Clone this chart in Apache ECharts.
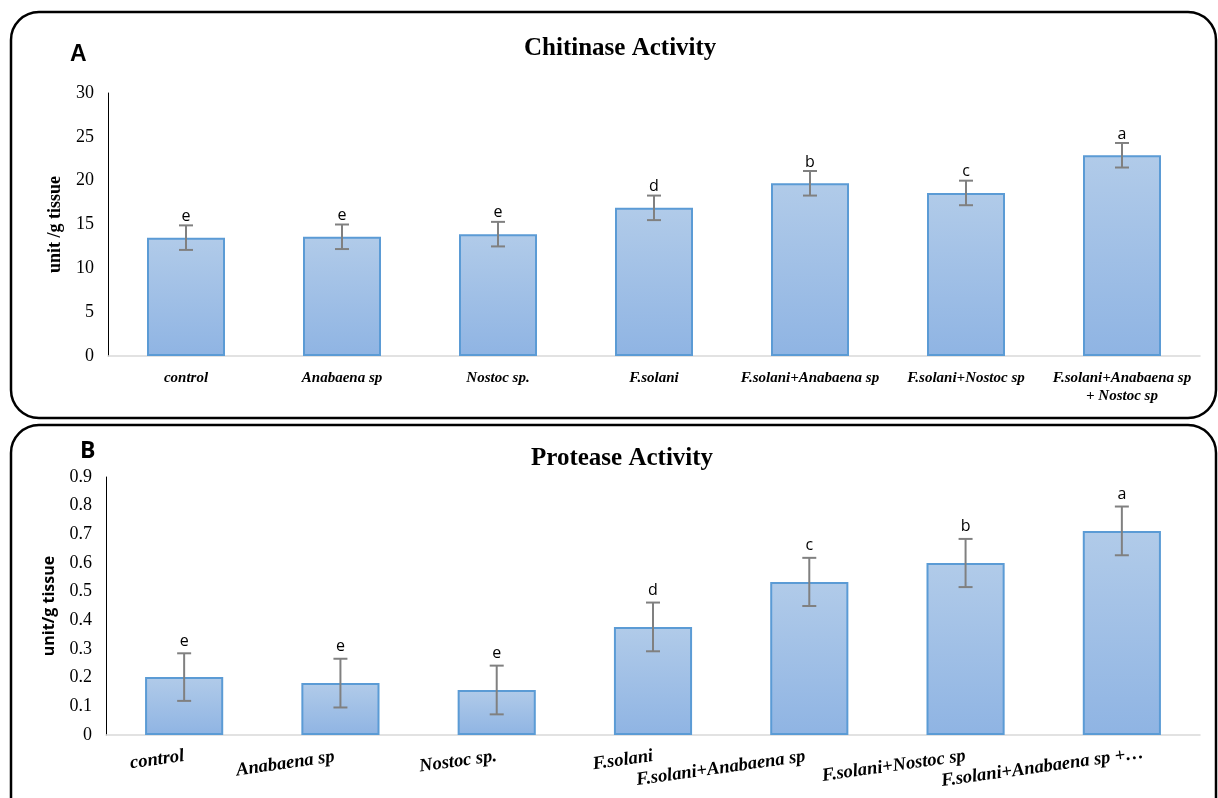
<!DOCTYPE html>
<html>
<head>
<meta charset="utf-8">
<title>Chitinase / Protease Activity</title>
<script src="https://cdn.jsdelivr.net/npm/echarts@6/dist/echarts.min.js"></script>
<style>
  html, body { margin: 0; padding: 0; background: #fff; }
  #main { width: 1218px; height: 798px; }
</style>
</head>
<body>
<div id="main"></div>
<script>
// categories
var catsA = ['control', 'Anabaena sp', 'Nostoc sp.', 'F.solani', 'F.solani+Anabaena sp', 'F.solani+Nostoc sp', 'F.solani+Anabaena sp\n+ Nostoc sp'];
var catsB = ['control', 'Anabaena sp', 'Nostoc sp.', 'F.solani', 'F.solani+Anabaena sp', 'F.solani+Nostoc sp', 'F.solani+Anabaena sp +\u2026'];

// chitinase (unit /g tissue)
var chitinase = [13.5, 13.6, 13.9, 16.9, 19.7, 18.6, 22.9];
var chitinaseErr = [1.4, 1.4, 1.4, 1.4, 1.4, 1.4, 1.4];
var chitinaseLetters = ['e', 'e', 'e', 'd', 'b', 'c', 'a'];

// protease (unit/g tissue)
var protease = [0.202, 0.181, 0.157, 0.377, 0.534, 0.600, 0.712];
var proteaseErr = [0.083, 0.085, 0.085, 0.085, 0.084, 0.084, 0.085];
var proteaseLetters = ['e', 'e', 'e', 'd', 'c', 'b', 'a'];

// tick settings
var ticksA = { min: 0, max: 30, interval: 5 };
var ticksB = { min: 0, max: 0.9, interval: 0.1 };

// label shifts for the slanted labels of panel B (padding in text frame)
var shiftB = [
  [0, 0, 0, 0],
  [12, 6, 0, 0],
  [14, 0, 0, 0],
  [2, 0, 0, 0],
  [8, 4, 0, 0],
  [4, 0, 0, 0],
  [2, -22, 0, 0]
];

var serif = '"Liberation Serif", "Times New Roman", serif';
var sans = '"Open Sans", "Noto Sans", sans-serif';

function barFill() {
  return new echarts.graphic.LinearGradient(0, 0, 0, 1, [
    { offset: 0, color: '#b1cbe9' },
    { offset: 1, color: '#8fb4e3' }
  ]);
}

// error bar data: [index, high, low]
function errData(vals, errs) {
  var out = [];
  for (var i = 0; i < vals.length; i++) {
    out.push([i, vals[i] + errs[i], vals[i] - errs[i]]);
  }
  return out;
}

function errRender(letters, gap) {
  return function (params, api) {
    var top = api.coord([api.value(0), api.value(1)]);
    var bot = api.coord([api.value(0), api.value(2)]);
    var cap = 7;
    var st = { stroke: '#808080', lineWidth: 2 };
    return {
      type: 'group',
      children: [
        { type: 'line', shape: { x1: top[0], y1: top[1], x2: bot[0], y2: bot[1] }, style: st },
        { type: 'line', shape: { x1: top[0] - cap, y1: top[1], x2: top[0] + cap, y2: top[1] }, style: st },
        { type: 'line', shape: { x1: bot[0] - cap, y1: bot[1], x2: bot[0] + cap, y2: bot[1] }, style: st },
        {
          type: 'text',
          style: {
            text: letters[params.dataIndex],
            x: top[0], y: top[1] - gap,
            align: 'center', verticalAlign: 'bottom',
            fontFamily: sans, fontSize: 16, fill: '#000'
          }
        }
      ]
    };
  };
}

var labelsB = [];
for (var i = 0; i < catsB.length; i++) {
  labelsB.push({ value: catsB[i], textStyle: { padding: shiftB[i] } });
}

function drawChart() {
  var myChart = echarts.init(document.getElementById('main'));
  var option = {
    animation: false,
    backgroundColor: '#fff',
    graphic: [
      { type: 'rect', shape: { x: 11, y: 12, width: 1205, height: 406, r: 28 }, style: { fill: 'none', stroke: '#000', lineWidth: 2.5 }, z: 0 },
      { type: 'rect', shape: { x: 11, y: 425, width: 1205, height: 420, r: 28 }, style: { fill: 'none', stroke: '#000', lineWidth: 2.5 }, z: 0 }
    ],
    title: [
      { text: 'Chitinase Activity', left: 524, top: 36, padding: 0, textStyle: { fontFamily: serif, fontSize: 25, fontWeight: 'bold', color: '#000' } },
      { text: 'Protease Activity', left: 531, top: 446, padding: 0, textStyle: { fontFamily: serif, fontSize: 25, fontWeight: 'bold', color: '#000' } },
      { text: 'A', left: 70, top: 43, padding: 0, textStyle: { fontFamily: '"Liberation Sans", Arial, sans-serif', fontSize: 23, fontWeight: 'bold', color: '#000' } },
      { text: 'B', left: 80, top: 440, padding: 0, textStyle: { fontFamily: sans, fontSize: 23, fontWeight: 'bold', color: '#000' } }
    ],
    grid: [
      { left: 108, top: 93, width: 1092, height: 263 },
      { left: 106, top: 477, width: 1094, height: 258 }
    ],
    xAxis: [{
      type: 'category',
      gridIndex: 0,
      data: catsA,
      axisLine: { lineStyle: { color: '#d9d9d9', width: 1.5 } },
      axisTick: { show: false },
      axisLabel: {
        interval: 0, margin: 13, lineHeight: 18,
        fontFamily: serif, fontSize: 15, fontWeight: 'bold', fontStyle: 'italic', color: '#000'
      }
    }, {
      type: 'category',
      gridIndex: 1,
      data: labelsB,
      axisLine: { lineStyle: { color: '#d9d9d9', width: 1.5 } },
      axisTick: { show: false },
      axisLabel: {
        interval: 0, margin: 21, rotate: 8,
        fontFamily: serif, fontSize: 18.5, fontWeight: 'bold', fontStyle: 'italic', color: '#000'
      }
    }],
    yAxis: [{
      type: 'value',
      gridIndex: 0,
      min: ticksA.min, max: ticksA.max, interval: ticksA.interval,
      name: 'unit /g tissue',
      nameLocation: 'middle', nameGap: 44,
      nameTextStyle: { fontFamily: serif, fontSize: 18, fontWeight: 'bold', color: '#000' },
      axisLine: { show: true, lineStyle: { color: '#000', width: 1 } },
      axisTick: { show: false },
      splitLine: { show: false },
      axisLabel: { margin: 14, fontFamily: serif, fontSize: 18, color: '#000' }
    }, {
      type: 'value',
      gridIndex: 1,
      min: ticksB.min, max: ticksB.max, interval: ticksB.interval,
      name: 'unit/g tissue',
      nameLocation: 'middle', nameGap: 49,
      nameTextStyle: { fontFamily: sans, fontSize: 16, fontWeight: 'bold', color: '#000' },
      axisLine: { show: true, lineStyle: { color: '#000', width: 1 } },
      axisTick: { show: false },
      splitLine: { show: false },
      axisLabel: {
        margin: 14, fontFamily: serif, fontSize: 18, color: '#000',
        formatter: function (v) { return v === 0 ? '0' : (+v.toFixed(1)).toString(); }
      }
    }],
    series: [{
      name: 'Chitinase',
      type: 'bar',
      xAxisIndex: 0, yAxisIndex: 0,
      barWidth: '50%',
      data: chitinase,
      itemStyle: { color: barFill(), borderColor: '#5b9bd5', borderWidth: 2 }
    }, {
      type: 'custom',
      xAxisIndex: 0, yAxisIndex: 0,
      data: errData(chitinase, chitinaseErr),
      renderItem: errRender(chitinaseLetters, 1),
      z: 5
    }, {
      name: 'Protease',
      type: 'bar',
      xAxisIndex: 1, yAxisIndex: 1,
      barWidth: '50%',
      data: protease,
      itemStyle: { color: barFill(), borderColor: '#5b9bd5', borderWidth: 2 }
    }, {
      type: 'custom',
      xAxisIndex: 1, yAxisIndex: 1,
      data: errData(protease, proteaseErr),
      renderItem: errRender(proteaseLetters, 4),
      z: 5
    }]
  };
  myChart.setOption(option);
}

drawChart();
</script>
</body>
</html>
